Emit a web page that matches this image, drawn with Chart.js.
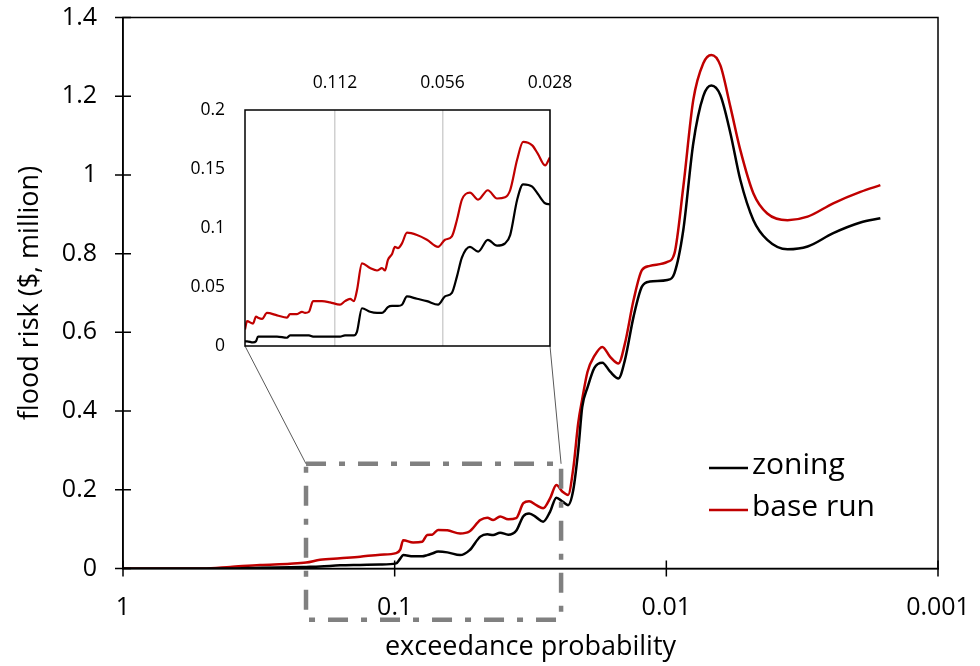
<!DOCTYPE html>
<html>
<head>
<meta charset="utf-8">
<script src="https://cdn.jsdelivr.net/npm/chart.js@4/dist/chart.umd.min.js"></script>
<style>
  html, body { margin: 0; padding: 0; background: #fff; }
  #wrap { position: relative; width: 980px; height: 666px; }
  #main { position: absolute; left: 0; top: 0; }
  #inset { position: absolute; left: 170px; top: 50px; }
</style>
</head>
<body>
<div id="wrap">
  <canvas id="main" width="980" height="666"></canvas>
  <canvas id="inset" width="430" height="310"></canvas>
</div>
<script>
// main chart data (exceedance probability -> flood risk, $ million)
const probs = [1, 0.507, 0.403, 0.313, 0.2426, 0.2118, 0.1881, 0.1588, 0.1340, 0.1131,
  0.0988, 0.0954, 0.0930, 0.0855, 0.0792, 0.0759, 0.0728, 0.0692, 0.0640, 0.0574,
  0.0531, 0.0484, 0.0456, 0.0434, 0.0409, 0.0382, 0.0357, 0.0336, 0.0320, 0.0301,
  0.0284, 0.0268, 0.0254, 0.0241, 0.0230, 0.0220, 0.0211, 0.0204, 0.0195, 0.0184,
  0.0172, 0.0161, 0.0150, 0.0142, 0.0132, 0.0123, 0.0115, 0.00991, 0.00934, 0.00866,
  0.00796, 0.00731, 0.00683, 0.00633, 0.00581, 0.00534, 0.00478, 0.00425, 0.00358, 0.00302,
  0.00243, 0.00193, 0.00163];
const zoning = [0, 0, 0, 0.002, 0.003, 0.004, 0.005, 0.008, 0.009, 0.010,
  0.013, 0.025, 0.034, 0.031, 0.031, 0.034, 0.038, 0.043, 0.041, 0.034,
  0.046, 0.081, 0.087, 0.085, 0.091, 0.086, 0.096, 0.133, 0.140, 0.130,
  0.119, 0.144, 0.180, 0.170, 0.161, 0.200, 0.300, 0.410, 0.460, 0.510,
  0.523, 0.500, 0.483, 0.530, 0.640, 0.716, 0.729, 0.733, 0.750, 0.860,
  1.080, 1.200, 1.227, 1.203, 1.106, 0.987, 0.885, 0.835, 0.811, 0.818,
  0.852, 0.879, 0.890];
const baseRun = [0, 0, 0.004, 0.009, 0.012, 0.015, 0.022, 0.026, 0.030, 0.035,
  0.039, 0.048, 0.072, 0.066, 0.068, 0.085, 0.086, 0.098, 0.097, 0.089,
  0.094, 0.123, 0.129, 0.123, 0.132, 0.125, 0.128, 0.166, 0.171, 0.161,
  0.153, 0.178, 0.212, 0.195, 0.187, 0.255, 0.370, 0.430, 0.500, 0.540,
  0.563, 0.538, 0.521, 0.572, 0.682, 0.758, 0.769, 0.779, 0.800, 0.970,
  1.190, 1.284, 1.305, 1.279, 1.173, 1.063, 0.953, 0.902, 0.885, 0.894,
  0.928, 0.957, 0.974];
const xTicks = [1, 0.1, 0.01, 0.001];

// inset data (zoom of 0.2 .. 0.028)
const insetProbs = [0.2, 0.1974, 0.1899, 0.1863, 0.1839, 0.1792, 0.1736, 0.1627, 0.1526, 0.1496,
  0.1430, 0.1385, 0.1358, 0.1324, 0.1290, 0.1218, 0.1156, 0.1084, 0.1050, 0.1016,
  0.0991, 0.0972, 0.0941, 0.0893, 0.0854, 0.0827, 0.0811, 0.0796, 0.0775, 0.0761,
  0.0746, 0.0727, 0.0704, 0.0660, 0.0619, 0.0576, 0.0551, 0.0527, 0.0510, 0.0494,
  0.0469, 0.0445, 0.0418, 0.0394, 0.0374, 0.0362, 0.0346, 0.0333, 0.0314, 0.0303,
  0.0289, 0.028];
const insetZoning = [0.004, 0.004, 0.003, 0.004, 0.008, 0.008, 0.008, 0.008, 0.007, 0.009,
  0.009, 0.009, 0.009, 0.009, 0.008, 0.008, 0.008, 0.008, 0.009, 0.009,
  0.009, 0.012, 0.032, 0.029, 0.028, 0.028, 0.030, 0.033, 0.034, 0.034,
  0.034, 0.035, 0.042, 0.040, 0.038, 0.035, 0.042, 0.045, 0.059, 0.075,
  0.084, 0.080, 0.090, 0.085, 0.087, 0.094, 0.124, 0.137, 0.135, 0.129,
  0.121, 0.120];
const insetBase = [0.014, 0.021, 0.019, 0.025, 0.024, 0.023, 0.028, 0.026, 0.024, 0.027,
  0.027, 0.029, 0.028, 0.029, 0.038, 0.038, 0.037, 0.035, 0.038, 0.040,
  0.038, 0.047, 0.070, 0.066, 0.064, 0.066, 0.064, 0.073, 0.078, 0.084,
  0.083, 0.087, 0.096, 0.094, 0.090, 0.084, 0.090, 0.093, 0.107, 0.124,
  0.130, 0.124, 0.132, 0.125, 0.126, 0.132, 0.158, 0.173, 0.170, 0.163,
  0.153, 0.160];
const insetTicks = [0.112, 0.056, 0.028];

// dashed zoom box on main chart (data units)
const zoomBox = { from: 0.212, to: 0.0244, top: 0.266, bottom: -0.13 };

const FONT = "'Open Sans', sans-serif";
const BLACK = '#000000';
const RED = '#c00000';

const pts = (xs, ys) => xs.map((x, i) => ({ x: x, y: ys[i] }));
const noPadX = s => { s.paddingLeft = 0; s.paddingRight = 0; };
const noPadY = s => { s.paddingTop = 0; s.paddingBottom = 0; };

// inset first so the main chart can draw the connector lines to it
const insetFrame = {
  id: 'insetFrame',
  beforeDraw(chart) {
    const a = chart.chartArea, ctx = chart.ctx;
    ctx.save();
    ctx.fillStyle = '#fff';
    ctx.fillRect(a.left, a.top, a.right - a.left, a.bottom - a.top);
    ctx.restore();
  },
  afterDraw(chart) {
    const a = chart.chartArea, ctx = chart.ctx;
    ctx.save();
    ctx.strokeStyle = '#000';
    ctx.lineWidth = 1.5;
    ctx.strokeRect(a.left, a.top, a.right - a.left, a.bottom - a.top);
    ctx.restore();
  }
};

// inset canvas 430x310 at (170,50): plot area 245..550 x 110..346
const insetChart = new Chart(document.getElementById('inset'), {
  type: 'line',
  data: {
    datasets: [
      { label: 'zoning', data: pts(insetProbs, insetZoning), borderColor: BLACK, borderWidth: 2.2,
        pointRadius: 0, cubicInterpolationMode: 'monotone' },
      { label: 'base run', data: pts(insetProbs, insetBase), borderColor: RED, borderWidth: 2.2,
        pointRadius: 0, cubicInterpolationMode: 'monotone' }
    ]
  },
  options: {
    responsive: false,
    animation: false,
    layout: { padding: { top: 0, right: 50, bottom: 14, left: 0 } },
    plugins: { legend: { display: false }, tooltip: { enabled: false } },
    scales: {
      x: {
        type: 'logarithmic', position: 'top', reverse: true, min: 0.028, max: 0.2,
        afterBuildTicks: s => { s.ticks = insetTicks.map(v => ({ value: v })); },
        afterFit: s => { s.height = 60; noPadX(s); },
        ticks: { callback: v => String(v), font: { family: FONT, size: 17.5 }, color: '#000',
                 padding: 16, maxRotation: 0, autoSkip: false },
        grid: { drawTicks: false, color: '#d0d0d0', lineWidth: 1.5 },
        border: { display: false }
      },
      y: {
        min: 0, max: 0.2,
        afterFit: s => { s.width = 75; noPadY(s); },
        ticks: { stepSize: 0.05, callback: v => String(+v.toFixed(2)), font: { family: FONT, size: 17.5 },
                 color: '#000', padding: 20 },
        grid: { display: false, drawTicks: false },
        border: { display: false }
      }
    }
  },
  plugins: [insetFrame]
});

const mainDecor = {
  id: 'mainDecor',
  afterDraw(chart) {
    const ctx = chart.ctx, a = chart.chartArea;
    const xs = chart.scales.x, ys = chart.scales.y;
    ctx.save();
    // frame
    ctx.strokeStyle = '#000';
    ctx.lineWidth = 1.5;
    ctx.strokeRect(a.left, a.top, a.right - a.left, a.bottom - a.top);
    // crossing tick marks
    ctx.beginPath();
    xs.ticks.forEach(t => {
      const px = xs.getPixelForValue(t.value);
      ctx.moveTo(px, a.bottom - 8); ctx.lineTo(px, a.bottom + 8);
    });
    ys.ticks.forEach(t => {
      const py = ys.getPixelForValue(t.value);
      ctx.moveTo(a.left - 8, py); ctx.lineTo(a.left + 8, py);
    });
    ctx.stroke();

    // zoom box
    const bl = xs.getPixelForValue(zoomBox.from), br = xs.getPixelForValue(zoomBox.to);
    const bt = ys.getPixelForValue(zoomBox.top), bb = ys.getPixelForValue(zoomBox.bottom);
    ctx.strokeStyle = '#808080';
    ctx.lineWidth = 4.5;
    ctx.setLineDash([20, 13, 6, 13]);
    ctx.strokeRect(bl, bt, br - bl, bb - bt);
    ctx.setLineDash([]);

    // connectors to the inset
    const ia = insetChart.chartArea, cv = insetChart.canvas;
    const ox = cv.offsetLeft, oy = cv.offsetTop;
    ctx.strokeStyle = '#595959';
    ctx.lineWidth = 1;
    ctx.beginPath();
    ctx.moveTo(ox + ia.left, oy + ia.bottom); ctx.lineTo(bl, bt);
    ctx.moveTo(ox + ia.right, oy + ia.bottom); ctx.lineTo(br, bt);
    ctx.stroke();

    // legend
    ctx.font = "30px " + FONT;
    ctx.textBaseline = 'middle';
    ctx.textAlign = 'left';
    chart.data.datasets.forEach((ds, i) => {
      const ly = 468 + i * 42;
      ctx.strokeStyle = ds.borderColor;
      ctx.lineWidth = 2.5;
      ctx.beginPath();
      ctx.moveTo(709, ly); ctx.lineTo(748, ly);
      ctx.stroke();
      ctx.fillStyle = '#000';
      ctx.fillText(ds.label, 752, ly - 3);
    });
    ctx.restore();
  }
};

// plot area 123..938 x 17.5..568.5
const mainChart = new Chart(document.getElementById('main'), {
  type: 'line',
  data: {
    datasets: [
      { label: 'zoning', data: pts(probs, zoning), borderColor: BLACK, borderWidth: 2.5,
        pointRadius: 0, cubicInterpolationMode: 'monotone' },
      { label: 'base run', data: pts(probs, baseRun), borderColor: RED, borderWidth: 2.5,
        pointRadius: 0, cubicInterpolationMode: 'monotone' }
    ]
  },
  options: {
    responsive: false,
    animation: false,
    layout: { padding: { top: 17.5, right: 42, bottom: 0, left: 0 } },
    plugins: { legend: { display: false }, tooltip: { enabled: false } },
    scales: {
      x: {
        type: 'logarithmic', reverse: true, min: 0.001, max: 1,
        afterBuildTicks: s => { s.ticks = xTicks.map(v => ({ value: v })); },
        afterFit: s => { s.height = 97.5; noPadX(s); },
        ticks: { callback: v => String(v), font: { family: FONT, size: 25 }, color: '#000',
                 padding: 24, maxRotation: 0, autoSkip: false },
        grid: { display: false, drawTicks: false },
        border: { color: '#000', width: 1.5 },
        title: { display: true, text: 'exceedance probability', color: '#000',
                 font: { family: FONT, size: 27 }, padding: { top: 0, bottom: 2 } }
      },
      y: {
        min: 0, max: 1.4,
        afterFit: s => { s.width = 123; noPadY(s); },
        ticks: { stepSize: 0.2, callback: v => String(+v.toFixed(1)), font: { family: FONT, size: 25 },
                 color: '#000', padding: 26 },
        grid: { display: false, drawTicks: false },
        border: { color: '#000', width: 1.5 },
        title: { display: true, text: 'flood risk ($, million)', color: '#000',
                 font: { family: FONT, size: 27 }, padding: { top: 14, bottom: 0 } }
      }
    }
  },
  plugins: [mainDecor]
});
</script>
</body>
</html>
